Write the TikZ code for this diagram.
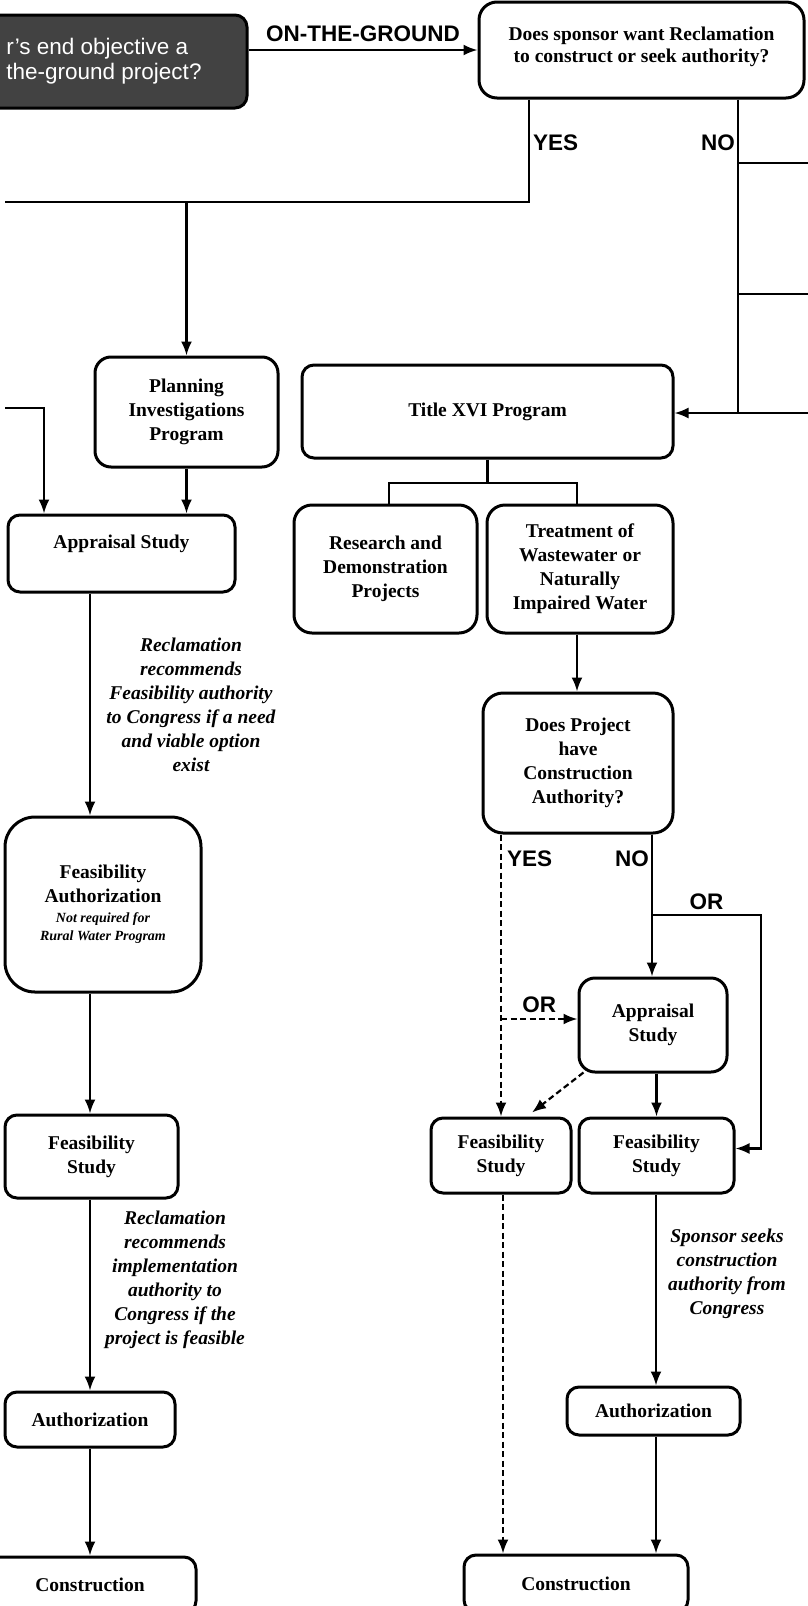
\documentclass[tikz,border=0pt]{standalone}
\usepackage{fontspec}
\setmainfont{Liberation Serif}
\setsansfont{Liberation Sans}
\usetikzlibrary{arrows.meta,positioning}

\begin{document}
\begin{tikzpicture}[
    x=1pt, y=-1pt,
    box/.style={draw, rounded corners=12pt, line width=3pt, align=center, inner sep=2pt,
        font=\fontsize{19.5}{24}\selectfont\bfseries},
    darkbox/.style={box, fill=black!74, text=white, align=left,
        font=\fontsize{22.5}{25}\selectfont\sffamily},
    arrow/.style={-{Latex[length=14pt,width=11pt]}, line width=2.2pt},
    link/.style={line width=2.2pt},
    dashlink/.style={dash pattern=on 6pt off 3.5pt},
    branch/.style={font=\fontsize{22.5}{22.5}\selectfont\sffamily\bfseries, inner sep=1pt},
    note/.style={align=center, font=\fontsize{19.5}{24}\selectfont\bfseries\itshape}
]
    \useasboundingbox (0,0) rectangle (808,1606);

    % Top row
    \node[darkbox, minimum width=286pt, minimum height=93pt] (objective) at (104,61.5) {r's end objective a\\the-ground project?};
    \node[box, minimum width=325pt, minimum height=96pt, rounded corners=18pt, text depth=10pt,
        font=\fontsize{19.5}{22}\selectfont\bfseries] (sponsor) at (641.5,50) {Does sponsor want Reclamation\\to construct or seek authority?};

    % Programs
    \node[box, minimum width=183pt, minimum height=110pt, rounded corners=16pt] (planning) at (186.5,412) {Planning\\Investigations\\Program};
    \node[box, minimum width=371pt, minimum height=93pt] (titlexvi) at (487.5,411.5) {Title XVI Program};
    \node[box, minimum width=183pt, minimum height=128pt, rounded corners=18pt] (research) at (385.5,569) {Research and\\Demonstration\\Projects};
    \node[box, minimum width=186pt, minimum height=128pt, rounded corners=18pt] (treatment) at (580,569) {Treatment of\\Wastewater or\\Naturally\\Impaired Water};
    \node[box, minimum width=190pt, minimum height=140pt, rounded corners=20pt] (constauth) at (578,763) {Does Project\\have\\Construction\\Authority?};

    % Left column
    \node[box, minimum width=227pt, minimum height=77pt, text depth=24pt] (appraisalL) at (121.5,553.5) {Appraisal Study};
    \node[box, minimum width=196pt, minimum height=175pt, rounded corners=30pt] (feasauth) at (103,904.5)
        {Feasibility\\Authorization\\[-4pt]{\fontsize{14}{18}\selectfont\itshape Not required for}\\[-6pt]{\fontsize{14}{18}\selectfont\itshape Rural Water Program}};
    \node[box, minimum width=173pt, minimum height=83pt] (feasL) at (91.5,1156.5) {Feasibility\\Study};
    \node[box, minimum width=170pt, minimum height=55pt] (authL) at (90,1419.5) {Authorization};
    \node[box, minimum width=212pt, minimum height=56pt] (constrL) at (90,1585) {Construction};

    % Right column
    \node[box, minimum width=148pt, minimum height=94pt, rounded corners=16pt] (appraisalR) at (653,1025) {Appraisal\\Study};
    \node[box, minimum width=140pt, minimum height=75pt] (feasM) at (501,1155.5) {Feasibility\\Study};
    \node[box, minimum width=155pt, minimum height=75pt] (feasR) at (656.5,1155.5) {Feasibility\\Study};
    \node[box, minimum width=173pt, minimum height=48pt] (authR) at (653.5,1411) {Authorization};
    \node[box, minimum width=224pt, minimum height=57pt] (constrR) at (576,1583.5) {Construction};

    % Notes
    \node[note] (needtext) at (191,705) {Reclamation\\recommends\\Feasibility authority\\to Congress if a need\\and viable option\\exist};
    \node[note] (feasibletext) at (175,1279.5) {Reclamation\\recommends\\implementation\\authority to\\Congress if the\\project is feasible};
    \node[note] (sponsortext) at (727,1273.5) {Sponsor seeks\\construction\\authority from\\Congress};

    % Branch labels
    \node[branch, anchor=west] (yesA) at (532,143) {YES};
    \node[branch, anchor=east] (noA) at (736,143) {NO};
    \node[branch, anchor=west] (yesB) at (506,859) {YES};
    \node[branch, anchor=east] (noB) at (650,859) {NO};

    % Helper points
    \coordinate (yesbend) at (529,202);
    \coordinate (leftedgeA) at (5,202);
    \coordinate (nobend) at (738,413);
    \coordinate (rightedgeA) at (812,163);
    \coordinate (rightedgeB) at (812,294);
    \coordinate (rightedgeC) at (812,413);
    \coordinate (leftedgeB) at (5,408);
    \coordinate (leftbend) at (44,408);
    \coordinate (colL) at (90,0);
    \coordinate (tsplit) at (485,483);
    \coordinate (yescol) at (501,0);
    \coordinate (orsplit) at (501,1019);
    \coordinate (nocol) at (652,0);
    \coordinate (orbend) at (652,915);
    \coordinate (orcorner) at (761,915);
    \coordinate (rcol) at (656,0);

    % Top connectors
    \draw[arrow] (objective.east |- sponsor.west) -- node[branch, above=6pt] {ON-THE-GROUND} (sponsor.west);
    \draw[link] (sponsor.south -| yesbend) -- (yesbend) -- (leftedgeA);
    \draw[arrow] (yesbend -| planning.north) -- (planning.north);
    \draw[link] (sponsor.south -| nobend) -- (nobend) -- (rightedgeC);
    \draw[link] (rightedgeA -| nobend) -- (rightedgeA);
    \draw[link] (rightedgeB -| nobend) -- (rightedgeB);
    \draw[arrow] (nobend) -- (nobend -| titlexvi.east);

    % Left column connectors
    \draw[arrow] (leftedgeB) -- (leftbend) -- (leftbend |- appraisalL.north);
    \draw[arrow] (planning.south) -- (planning.south |- appraisalL.north);
    \draw[arrow] (appraisalL.south -| colL) -- (feasauth.north -| colL);
    \draw[arrow] (feasauth.south -| colL) -- (feasL.north -| colL);
    \draw[arrow] (feasL.south -| colL) -- (authL.north -| colL);
    \draw[arrow] (authL.south -| colL) -- (constrL.north -| colL);

    % Title XVI split
    \draw[link] (titlexvi.south) -- (titlexvi.south |- tsplit);
    \draw[link] ([xshift=3.5pt]research.north) |- (titlexvi.south |- tsplit) -| ([xshift=-3pt]treatment.north);
    \draw[arrow] ([xshift=-3pt]treatment.south) -- ([xshift=-3pt]treatment.south |- constauth.north);

    % Construction authority: yes
    \draw[arrow, dashlink] (constauth.south -| yescol) -- (feasM.north -| yescol);
    \draw[arrow, dashlink] (orsplit) -- node[branch, above=4pt] {OR} (orsplit -| appraisalR.west);
    \draw[arrow, dashlink] ([xshift=6pt,yshift=1pt]appraisalR.south west) -- ([xshift=31pt,yshift=4pt]feasM.north);
    \draw[arrow, dashlink] ([xshift=2pt]feasM.south) -- ([xshift=2pt]feasM.south |- constrR.north);

    % Construction authority: no
    \draw[arrow] (constauth.south -| nocol) -- (appraisalR.north -| nocol);
    \draw[arrow] (orbend) -- node[branch, above=3pt] {OR} (orcorner) |- ([yshift=7pt]feasR.east);
    \draw[arrow] (appraisalR.south -| feasR.north) -- (feasR.north);
    \draw[arrow] (feasR.south -| rcol) -- (authR.north -| rcol);
    \draw[arrow] (authR.south -| rcol) -- (constrR.north -| rcol);
\end{tikzpicture}
\end{document}
